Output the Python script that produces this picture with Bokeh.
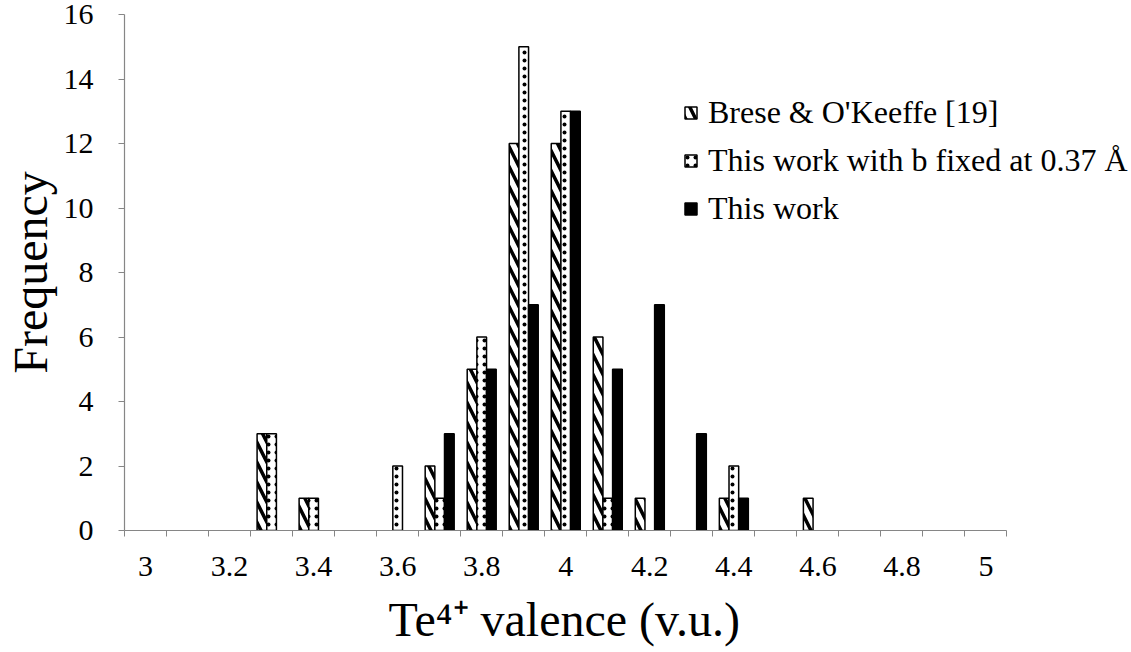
from bokeh.plotting import figure
from bokeh.models import (Range1d, FixedTicker, Legend, LegendItem, Title,
                          LinearAxis, ColumnDataSource)
from bokeh.transform import dodge
from bokeh.embed import file_html
from bokeh.resources import INLINE

# ---- data ----
valence = [3.3, 3.4, 3.6, 3.7, 3.8, 3.9, 4.0, 4.1, 4.2, 4.3, 4.4, 4.6]
brese = [3, 1, 0, 2, 5, 12, 12, 6, 1, 0, 1, 1]
fixed_b = [3, 1, 2, 1, 6, 15, 13, 1, 0, 0, 2, 0]
this_work = [0, 0, 0, 3, 5, 7, 13, 5, 7, 3, 1, 0]

series_names = ["Brese & O'Keeffe [19]",
                "This work with b fixed at 0.37 Å",
                "This work"]

x_tick_values = [3.0, 3.2, 3.4, 3.6, 3.8, 4.0, 4.2, 4.4, 4.6, 4.8, 5.0]
x_tick_labels = ["3", "3.2", "3.4", "3.6", "3.8", "4", "4.2", "4.4", "4.6", "4.8", "5"]
x_bin_edges = [2.95, 3.05, 3.15, 3.25, 3.35, 3.45, 3.55, 3.65, 3.75, 3.85, 3.95,
               4.05, 4.15, 4.25, 4.35, 4.45, 4.55, 4.65, 4.75, 4.85, 4.95, 5.05]
y_tick_values = [0, 2, 4, 6, 8, 10, 12, 14, 16]

x_title = "Te⁴⁺ valence (v.u.)"
y_title = "Frequency"

FONT = "Liberation Serif"
AXIS_GRAY = "#868686"
BAR_W = 0.023

# axis spans 2.95..5.05 over 886 px; the frame continues to the right edge
W, H = 1131, 652
LEFT, AXIS_PX, TOP, BOTTOM = 120, 886, 14, 122
x0, x1 = x_bin_edges[0], x_bin_edges[-1]
px_per_unit = AXIS_PX / (x1 - x0)
x_end = x0 + (W - LEFT) / px_per_unit

p = figure(width=W, height=H, output_backend="svg", toolbar_location=None,
           x_range=Range1d(x0, x_end), y_range=Range1d(0, 16),
           min_border_left=LEFT, min_border_right=0,
           min_border_top=TOP, min_border_bottom=BOTTOM)
p.outline_line_color = None
p.xgrid.visible = False
p.ygrid.visible = False
p.background_fill_color = "white"
p.border_fill_color = "white"


def src(vals):
    xs = [v for v, c in zip(valence, vals) if c > 0]
    ys = [c for c in vals if c > 0]
    return ColumnDataSource(dict(x=xs, top=ys))


r1 = p.vbar(x=dodge("x", -BAR_W, range=p.x_range), top="top", bottom=0, width=BAR_W,
            source=src(brese), fill_color="white", line_color="black", line_width=1.5,
            hatch_pattern="left_diagonal_line", hatch_color="black",
            hatch_scale=20, hatch_weight=3.5)
r2 = p.vbar(x=dodge("x", 0, range=p.x_range), top="top", bottom=0, width=BAR_W,
            source=src(fixed_b), fill_color="white", line_color="black", line_width=1.5,
            hatch_pattern="dot", hatch_color="black",
            hatch_scale=8, hatch_weight=1.0)
r3 = p.vbar(x=dodge("x", BAR_W, range=p.x_range), top="top", bottom=0, width=BAR_W,
            source=src(this_work), fill_color="black", line_color="black", line_width=1.5)

# ---- axes ----
xa = p.xaxis[0]
xa.bounds = (x0, x1)
xa.ticker = FixedTicker(ticks=x_tick_values, minor_ticks=x_bin_edges)
xa.major_label_overrides = {v: l for v, l in zip(x_tick_values, x_tick_labels)}
xa.major_tick_out = 0
xa.major_tick_in = 0
xa.minor_tick_out = 6
xa.minor_tick_in = 0
xa.minor_tick_line_color = AXIS_GRAY
xa.axis_line_color = AXIS_GRAY
xa.axis_line_width = 1.2
xa.major_label_text_font = FONT
xa.major_label_text_font_size = "30px"
xa.major_label_text_font_style = "normal"
xa.major_label_text_color = "black"
xa.major_label_standoff = 20

ya = p.yaxis[0]
ya.ticker = FixedTicker(ticks=y_tick_values)
ya.major_tick_out = 6
ya.major_tick_in = 0
ya.minor_tick_line_color = None
ya.major_tick_line_color = AXIS_GRAY
ya.axis_line_color = AXIS_GRAY
ya.axis_line_width = 1.2
ya.major_label_text_font = FONT
ya.major_label_text_font_size = "30px"
ya.major_label_text_font_style = "normal"
ya.major_label_text_color = "black"
ya.major_label_standoff = 25
ya.axis_label = y_title
ya.axis_label_text_font = FONT
ya.axis_label_text_font_size = "48px"
ya.axis_label_text_font_style = "normal"
ya.axis_label_text_color = "black"
ya.axis_label_standoff = 4

# invisible spacer axis (one hidden tick, empty label) between tick labels and x title
spacer = LinearAxis(ticker=FixedTicker(ticks=[x0]), major_tick_out=12, major_tick_in=0,
                    minor_tick_out=0, minor_tick_in=0, major_label_standoff=0,
                    major_label_overrides={x0: ""}, major_label_text_font_size="1px",
                    axis_line_color=None, major_tick_line_color=None,
                    minor_tick_line_color=None)
p.add_layout(spacer, "below")

# x-axis title, centred under the drawn axis (2.95..5.05)
p.add_layout(Title(text=x_title, align="left", offset=264, standoff=0,
                   text_font=FONT, text_font_size="48px", text_font_style="normal",
                   text_color="black"), "below")

# ---- legend ----
legend = Legend(items=[LegendItem(label=series_names[0], renderers=[r1]),
                       LegendItem(label=series_names[1], renderers=[r2]),
                       LegendItem(label=series_names[2], renderers=[r3])],
                location=(559, 298), orientation="vertical",
                glyph_width=15, glyph_height=15, label_standoff=10,
                label_height=48, spacing=0, padding=0, margin=0,
                label_text_font=FONT, label_text_font_size="32px",
                label_text_font_style="normal",
                label_text_color="black",
                border_line_color=None, background_fill_alpha=0)
p.add_layout(legend)

open("out.html", "w").write(file_html(p, INLINE))
